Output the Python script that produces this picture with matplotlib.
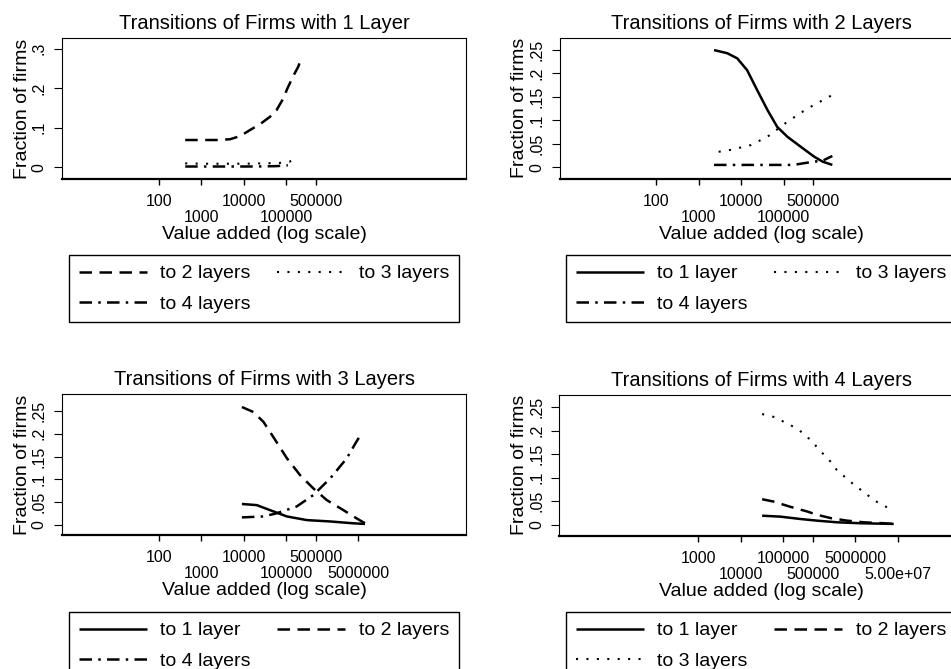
import matplotlib
matplotlib.use("Agg")
import matplotlib.pyplot as plt
import numpy as np
from matplotlib.ticker import NullLocator

plt.rcParams['font.family'] = ['Liberation Sans', 'DejaVu Sans']

# ---------------- data (value added, fraction of firms) ----------------
# firms with 1 layer
p1_to2_x = [420, 1000, 2500, 4800, 8300, 14000, 25000, 42000, 60000, 87000, 105000, 148000, 195000, 234000]
p1_to2_y = [0.069, 0.069, 0.069, 0.071, 0.079, 0.094, 0.110, 0.128, 0.145, 0.175, 0.197, 0.231, 0.255, 0.280]
p1_to3_x = [420, 1000, 3000, 10000, 30000, 70000, 120000, 150000]
p1_to3_y = [0.010, 0.009, 0.009, 0.009, 0.010, 0.011, 0.014, 0.020]
p1_to4_x = [420, 1000, 5000, 20000, 60000, 110000]
p1_to4_y = [0.002, 0.002, 0.002, 0.002, 0.003, 0.005]

# firms with 2 layers
p2_to1_x = [2300, 4700, 8100, 13800, 24000, 41700, 70800, 123000, 251000, 525000, 832000, 1410000]
p2_to1_y = [0.2496, 0.243, 0.232, 0.207, 0.164, 0.122, 0.086, 0.065, 0.044, 0.0226, 0.012, 0.005]
p2_to3_x = [2950, 5600, 16600, 41700, 123000, 363000, 1410000]
p2_to3_y = [0.033, 0.037, 0.047, 0.065, 0.097, 0.125, 0.154]
p2_to4_x = [2300, 10000, 50000, 174000, 295000, 525000, 832000, 1410000]
p2_to4_y = [0.005, 0.005, 0.005, 0.005, 0.0085, 0.012, 0.014, 0.024]

# firms with 3 layers
p3_to1_x = [9100, 20400, 41700, 105000, 309000, 1100000, 3800000, 7240000]
p3_to1_y = [0.0455, 0.043, 0.032, 0.018, 0.010, 0.007, 0.003, 0.0015]
p3_to2_x = [9100, 17000, 29500, 50000, 105000, 214000, 437000, 912000, 2240000, 4570000, 7240000]
p3_to2_y = [0.259, 0.248, 0.226, 0.193, 0.146, 0.109, 0.080, 0.054, 0.032, 0.014, 0.003]
p3_to4_x = [9100, 29500, 60000, 178000, 437000, 1100000, 2690000, 4570000, 6030000]
p3_to4_y = [0.016, 0.018, 0.025, 0.040, 0.065, 0.102, 0.146, 0.183, 0.201]

# firms with 4 layers
p4_to1_x = [31600, 85100, 251000, 617000, 1820000, 6460000, 39800000]
p4_to1_y = [0.019, 0.017, 0.012, 0.0085, 0.005, 0.003, 0.0015]
p4_to2_x = [31600, 58900, 145000, 363000, 617000, 1290000, 3160000, 7760000, 22900000, 39800000]
p4_to2_y = [0.054, 0.049, 0.038, 0.028, 0.021, 0.014, 0.0085, 0.005, 0.003, 0.0015]
p4_to3_x = [31600, 58900, 145000, 302000, 513000, 813000, 1290000, 1820000, 5010000, 7760000, 13500000, 30200000]
p4_to3_y = [0.235, 0.229, 0.212, 0.194, 0.173, 0.153, 0.134, 0.116, 0.082, 0.070, 0.052, 0.035]

xticks_a = [100, 1000, 10000, 100000, 500000]
xticks_c = [100, 1000, 10000, 100000, 500000, 5000000]
xticks_d = [1000, 10000, 100000, 500000, 5000000, 50000000]
xlabels_a = ['100', '1000', '10000', '100000', '500000']
xlabels_c = ['100', '1000', '10000', '100000', '500000', '5000000']
xlabels_d = ['1000', '10000', '100000', '500000', '5000000', '5.00e+07']

yticks_1 = [0, 0.1, 0.2, 0.3]
ylabels_1 = ['0', '.1', '.2', '.3']
yticks_2 = [0, 0.05, 0.1, 0.15, 0.2, 0.25]
ylabels_2 = ['0', '.05', '.1', '.15', '.2', '.25']

# line styles
LS = {
    'to 1 layer': dict(linestyle='-', linewidth=1.8),
    'to 2 layers': dict(linestyle=(0, (5, 3)), linewidth=1.8),
    'to 3 layers': dict(linestyle=(0, (1, 4)), linewidth=1.5),
    'to 4 layers': dict(linestyle=(0, (5, 2.5, 1, 2.5)), linewidth=1.8),
}

W, H = 951, 669
fig = plt.figure(figsize=(W / 100, H / 100), dpi=100)


def px_axes(left, top, right, bottom):
    return fig.add_axes([left / W, 1 - bottom / H, (right - left) / W, (bottom - top) / H])


panels = [
    dict(box=(62, 38, 466, 179), title='Transitions of Firms with 1 Layer',
         ylim=(-0.0296, 0.327), yt=yticks_1, yl=ylabels_1, xt=xticks_a, xl=xlabels_a,
         series=[('to 2 layers', p1_to2_x, p1_to2_y), ('to 3 layers', p1_to3_x, p1_to3_y),
                 ('to 4 layers', p1_to4_x, p1_to4_y)],
         leg=(69, 255)),
    dict(box=(559.5, 37.7, 963.5, 179), title='Transitions of Firms with 2 Layers',
         ylim=(-0.025, 0.276), yt=yticks_2, yl=ylabels_2, xt=xticks_a, xl=xlabels_a,
         series=[('to 1 layer', p2_to1_x, p2_to1_y), ('to 3 layers', p2_to3_x, p2_to3_y),
                 ('to 4 layers', p2_to4_x, p2_to4_y)],
         leg=(566, 255)),
    dict(box=(62, 394.3, 466, 535), title='Transitions of Firms with 3 Layers',
         ylim=(-0.0228, 0.287), yt=yticks_2, yl=ylabels_2, xt=xticks_c, xl=xlabels_c,
         series=[('to 1 layer', p3_to1_x, p3_to1_y), ('to 2 layers', p3_to2_x, p3_to2_y),
                 ('to 4 layers', p3_to4_x, p3_to4_y)],
         leg=(69, 612)),
    dict(box=(559.3, 395, 963.3, 535.7), title='Transitions of Firms with 4 Layers',
         ylim=(-0.0235, 0.2755), yt=yticks_2, yl=ylabels_2, xt=xticks_d, xl=xlabels_d,
         series=[('to 1 layer', p4_to1_x, p4_to1_y), ('to 2 layers', p4_to2_x, p4_to2_y),
                 ('to 3 layers', p4_to3_x, p4_to3_y)],
         leg=(566, 612)),
]

for p in panels:
    ax = px_axes(*p['box'])
    handles = []
    for name, xs, ys in p['series']:
        h, = ax.plot(xs, ys, color='black', solid_capstyle='butt', dash_capstyle='butt',
                     label=name, **LS[name])
        handles.append(h)

    ax.set_xscale('log')
    ax.set_xlim(10 ** -0.28, 10 ** 9.24)
    ax.set_ylim(*p['ylim'])
    ax.set_xticks(p['xt'])
    ax.set_xticklabels(p['xl'])
    ax.xaxis.set_minor_locator(NullLocator())
    ax.set_yticks(p['yt'])
    ax.set_yticklabels(p['yl'])

    ax.tick_params(axis='x', length=4.5, width=1.0, labelsize=11.5, color='black')
    ax.tick_params(axis='y', length=5.5, width=0.8, labelsize=11.5, labelrotation=90, pad=5.5)
    for lbl in ax.get_yticklabels():
        lbl.set_verticalalignment('center')
    # Stata staggers crowded tick labels on two rows
    for i, t in enumerate(ax.xaxis.get_major_ticks()):
        t.set_pad(6.5 if i % 2 == 0 else 18)

    for s in ['left', 'top', 'right']:
        ax.spines[s].set_linewidth(0.8)
    ax.spines['bottom'].set_linewidth(1.6)

    ax.set_title(p['title'], fontsize=14.5, pad=6.5)
    ax.set_xlabel('Value added (log scale)', fontsize=14)
    ax.xaxis.set_label_coords(0.5, -0.335)
    ax.set_ylabel('Fraction of firms', fontsize=14)
    ax.yaxis.set_label_coords(-0.077, 0.5)

    # legend filled row by row like the original
    order = [handles[0], handles[2], handles[1]]
    lx, ly = p['leg']
    leg = fig.legend(order, [h.get_label() for h in order], loc='upper left',
                     bbox_to_anchor=(lx / W, 1 - (ly + 65) / H, 390 / W, 65 / H), mode='expand',
                     ncol=2, fontsize=14, handlelength=3.5, handletextpad=0.7,
                     borderpad=0.5, labelspacing=0.65, borderaxespad=0, fancybox=False,
                     framealpha=1)
    leg.get_frame().set_edgecolor('black')
    leg.get_frame().set_linewidth(1.0)

fig.savefig('out.png', dpi=100)
